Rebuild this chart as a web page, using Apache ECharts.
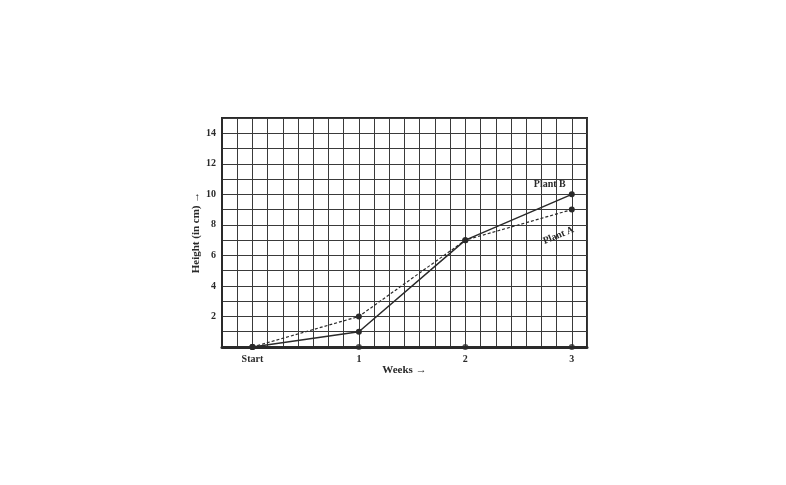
<!DOCTYPE html>
<html lang="en">
<head>
    <meta charset="UTF-8">
    <title>Plant height</title>
    <script src="https://cdn.jsdelivr.net/npm/echarts@6/dist/echarts.min.js"></script>
</head>
<body style="margin:0;background:#fff;">
    <div id="app" style="width:786px;height:485px;"></div>
    <script>
        // data
        var weeks = ['Start', '1', '2', '3'];
        var plantA = [0, 2, 7, 9];
        var plantB = [0, 1, 7, 10];
        var axisDots = [0, 0, 0, 0];
        var cellsPerWeek = 7;

        var ink = '#2a2a2a';
        var font = '"Liberation Serif", "DejaVu Serif", serif';

        function toPoints(vals) {
            var out = [];
            for (var i = 0; i < vals.length; i++) {
                out.push([i * cellsPerWeek, vals[i]]);
            }
            return out;
        }

        var dataA = toPoints(plantA);
        var dataB = toPoints(plantB);
        // name labels at the last point
        dataA[dataA.length - 1] = {
            value: dataA[dataA.length - 1],
            label: { show: true, formatter: 'Plant A', position: 'inside', offset: [-22, 19], rotate: 22 }
        };
        dataB[dataB.length - 1] = {
            value: dataB[dataB.length - 1],
            label: { show: true, formatter: 'Plant B', position: 'inside', offset: [-22, -10] }
        };

        var myChart = echarts.init(document.getElementById('app'));
        var option = {
            animation: false,
            backgroundColor: '#fff',
            grid: {
                left: 222, right: 199, top: 118, bottom: 138,
                show: true, borderColor: ink, borderWidth: 2
            },
            xAxis: {
                type: 'value',
                min: -2, max: 22, interval: 1,
                name: 'Weeks →',
                nameLocation: 'middle',
                nameGap: 12,
                nameTextStyle: { fontFamily: font, fontWeight: 'bold', fontSize: 11, color: ink },
                axisLine: { show: true, lineStyle: { color: ink, width: 3 } },
                axisTick: { show: false },
                splitLine: { show: true, lineStyle: { color: '#3a3a3a', width: 1 } },
                axisLabel: {
                    margin: 7,
                    fontFamily: font, fontWeight: 'bold', fontSize: 10, color: ink,
                    showMinLabel: true, showMaxLabel: true,
                    formatter: function (v) {
                        if (v >= 0 && v % cellsPerWeek === 0) {
                            return weeks[v / cellsPerWeek];
                        }
                        return '';
                    }
                }
            },
            yAxis: {
                type: 'value',
                min: 0, max: 15, interval: 1,
                name: 'Height (in cm) →',
                nameLocation: 'middle',
                nameGap: 18,
                nameRotate: 90,
                nameTextStyle: { fontFamily: font, fontWeight: 'bold', fontSize: 11, color: ink },
                axisLine: { show: true, onZero: false, lineStyle: { color: ink, width: 2 } },
                axisTick: { show: false },
                splitLine: { show: true, lineStyle: { color: '#3a3a3a', width: 1 } },
                axisLabel: {
                    margin: 6,
                    fontFamily: font, fontWeight: 'bold', fontSize: 10, color: ink,
                    formatter: function (v) {
                        return (v > 0 && v % 2 === 0 && v < 15) ? String(v) : '';
                    }
                }
            },
            series: [{
                name: 'Plant A',
                type: 'line',
                data: dataA,
                symbol: 'circle',
                symbolSize: 6,
                itemStyle: { color: ink },
                lineStyle: { color: ink, width: 1.2, type: [3, 2] },
                label: { fontFamily: font, fontWeight: 'bold', fontSize: 10, color: ink },
                z: 3
            }, {
                name: 'Plant B',
                type: 'line',
                data: dataB,
                symbol: 'circle',
                symbolSize: 6,
                itemStyle: { color: ink },
                lineStyle: { color: ink, width: 1.5 },
                label: { fontFamily: font, fontWeight: 'bold', fontSize: 10, color: ink },
                z: 4
            }, {
                name: 'weeks',
                type: 'scatter',
                data: toPoints(axisDots),
                symbolSize: 6,
                itemStyle: { color: ink },
                z: 5
            }]
        };
        myChart.setOption(option);
    </script>
</body>
</html>
